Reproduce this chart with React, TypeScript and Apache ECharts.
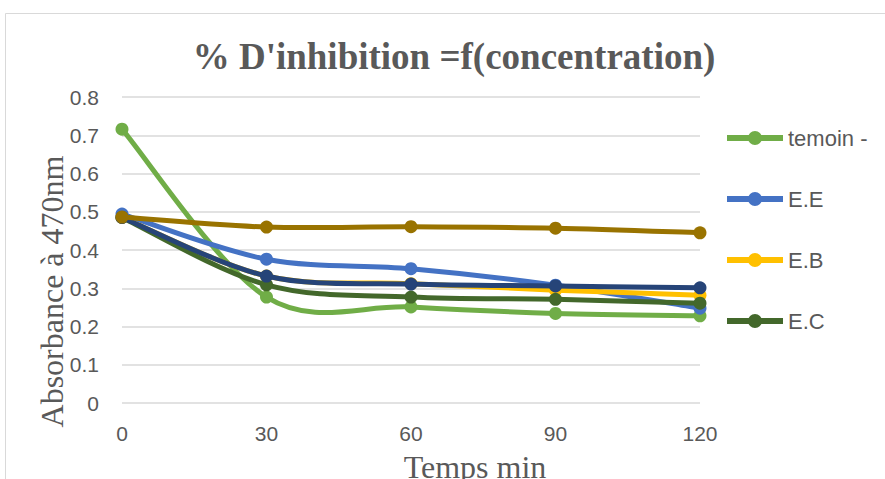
import React, { useEffect, useRef } from "react";
import * as echarts from "echarts";

// Time points (min) on the x axis
const times = ["0", "30", "60", "90", "120"];

// Absorbance at 470 nm for each extract
const temoin = [0.716, 0.277, 0.251, 0.234, 0.228];
const extE = [0.494, 0.376, 0.351, 0.308, 0.248];
const extB = [0.485, 0.332, 0.312, 0.295, 0.282];
const extC = [0.485, 0.309, 0.277, 0.271, 0.261];
const extD = [0.486, 0.460, 0.461, 0.457, 0.445];
const extF = [0.485, 0.332, 0.311, 0.306, 0.301];

const legendNames = ["temoin -", "E.E", "E.B", "E.C"];

const GRAY = "#595959";
const SANS = "Liberation Sans";
const SERIF = "Liberation Serif";

// Legend glyph: a thick stroke with a round marker in the middle
const LEGEND_ICON =
  "path://M0,4 L56,4 L56,10 L0,10 Z M21,7 A7,7 0 1,1 35,7 A7,7 0 1,1 21,7 Z";

// Smoothed line path (cubic Bezier with Catmull-Rom style tangents)
function smoothPath(pts: number[][]): string {
  const n = pts.length;
  let d = `M${pts[0][0]},${pts[0][1]}`;
  for (let i = 0; i < n - 1; i++) {
    const p0 = pts[Math.max(i - 1, 0)];
    const p1 = pts[i];
    const p2 = pts[i + 1];
    const p3 = pts[Math.min(i + 2, n - 1)];
    const c1x = p1[0] + (p2[0] - p0[0]) / 6;
    const c1y = p1[1] + (p2[1] - p0[1]) / 6;
    const c2x = p2[0] - (p3[0] - p1[0]) / 6;
    const c2y = p2[1] - (p3[1] - p1[1]) / 6;
    d += ` C${c1x},${c1y} ${c2x},${c2y} ${p2[0]},${p2[1]}`;
  }
  return d;
}

function curveSeries(name: string, values: number[], color: string) {
  return {
    name,
    type: "custom",
    coordinateSystem: "cartesian2d",
    data: values.map((v, i) => [i, v]),
    encode: { x: 0, y: 1 },
    itemStyle: { color },
    renderItem: (params: any, api: any) => {
      const pt = api.coord([api.value(0), api.value(1)]);
      const marker = {
        type: "circle",
        shape: { cx: pt[0], cy: pt[1], r: 6.5 },
        style: { fill: color },
      };
      if (params.dataIndex !== 0) return marker;
      const pts = values.map((v, i) => api.coord([i, v]));
      return {
        type: "group",
        children: [
          {
            type: "path",
            shape: { pathData: smoothPath(pts) },
            style: {
              fill: "none",
              stroke: color,
              lineWidth: 5,
              lineJoin: "round",
              lineCap: "round",
            },
          },
          marker,
        ],
      };
    },
  };
}

export default function App() {
  const ref = useRef<HTMLDivElement>(null);

  useEffect(() => {
    const chart = echarts.init(ref.current!, undefined, { renderer: "svg" });
    chart.setOption({
      animation: false,
      backgroundColor: "#ffffff",
      grid: { left: 122, right: 185, top: 97, bottom: 76 },
      xAxis: {
        type: "category",
        data: times,
        boundaryGap: false,
        axisLine: { show: false },
        axisTick: { show: false },
        axisLabel: {
          color: GRAY,
          fontSize: 21,
          fontFamily: SANS,
          margin: 20,
        },
      },
      yAxis: {
        type: "value",
        min: 0,
        max: 0.8,
        interval: 0.1,
        axisLabel: {
          color: GRAY,
          fontSize: 21,
          fontFamily: SANS,
          margin: 23,
          formatter: (v: number) => String(Math.round(v * 10) / 10),
        },
        splitLine: { lineStyle: { color: "#d9d9d9", width: 1.5 } },
      },
      legend: {
        data: legendNames,
        orient: "vertical",
        left: 727,
        top: 127,
        padding: 0,
        icon: LEGEND_ICON,
        itemWidth: 56,
        itemHeight: 14,
        itemGap: 39,
        textStyle: {
          color: GRAY,
          fontSize: 22,
          lineHeight: 22,
          fontFamily: SANS,
        },
      },
      graphic: [
        {
          type: "rect",
          shape: { x: 5.5, y: 13.5, width: 900, height: 500 },
          style: { fill: "none", stroke: "#d9d9d9", lineWidth: 1 },
          silent: true,
        },
        {
          type: "text",
          x: 454,
          y: 56.5,
          style: {
            text: "% D'inhibition =f(concentration)",
            font: `bold 37px '${SERIF}'`,
            fill: GRAY,
            align: "center",
            verticalAlign: "middle",
          },
        },
        {
          type: "text",
          x: 52,
          y: 291.5,
          rotation: Math.PI / 2,
          style: {
            text: "Absorbance à 470nm",
            font: `32px '${SERIF}'`,
            fill: GRAY,
            align: "center",
            verticalAlign: "middle",
          },
        },
        {
          type: "text",
          x: 475,
          y: 467,
          style: {
            text: "Temps min",
            font: `32px '${SERIF}'`,
            fill: GRAY,
            align: "center",
            verticalAlign: "middle",
          },
        },
      ],
      // Later series are painted on top of earlier ones
      series: [
        curveSeries("temoin -", temoin, "#70AD47"),
        curveSeries("E.E", extE, "#4472C4"),
        curveSeries("E.B", extB, "#FFC000"),
        curveSeries("E.C", extC, "#43682B"),
        curveSeries("E.F", extF, "#264478"),
        curveSeries("E.D", extD, "#997300"),
      ],
    });
    return () => chart.dispose();
  }, []);

  return (
    <div
      ref={ref}
      style={{ position: "fixed", left: 0, top: 0, width: 885, height: 479 }}
    />
  );
}
